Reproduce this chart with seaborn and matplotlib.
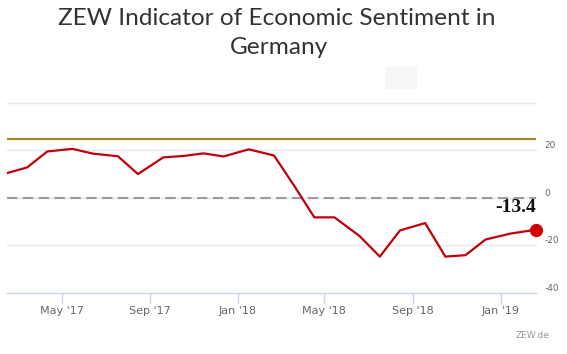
import pandas as pd
import numpy as np
import matplotlib.pyplot as plt
import matplotlib.dates as mdates
from matplotlib.transforms import ScaledTranslation
from matplotlib.patches import Rectangle
import seaborn as sns

# ZEW release dates and indicator values
release_dates = [
    "2017-02-14", "2017-03-14", "2017-04-11", "2017-05-16", "2017-06-13", "2017-07-18",
    "2017-08-15", "2017-09-19", "2017-10-17", "2017-11-14", "2017-12-12",
    "2018-01-16", "2018-02-20", "2018-03-20", "2018-04-17", "2018-05-15", "2018-06-19",
    "2018-07-17", "2018-08-14", "2018-09-18", "2018-10-16", "2018-11-13", "2018-12-11",
    "2019-01-15", "2019-02-19",
]
sentiment = [
    10.4, 12.8, 19.5, 20.6, 18.6, 17.5,
    10.0, 17.0, 17.6, 18.7, 17.4,
    20.4, 17.8, 5.1, -8.2, -8.2, -16.1,
    -24.7, -13.7, -10.6, -24.7, -24.1, -17.5,
    -15.0, -13.4,
]
long_term_avg = 24.6
y_ticks = [-40, -20, 0, 20]
y_grid = [-20, 0, 20, 40]

df = pd.DataFrame({"date": pd.to_datetime(release_dates), "value": sentiment})

sns.set_style("white")
plt.rcParams["font.family"] = ["DejaVu Sans"]

fig = plt.figure(figsize=(5.67, 3.54), dpi=100)
ax = fig.add_axes([7 / 567, 0.1723, 529 / 567, 0.5376])

# faint box left over from the original page
fig.patches.append(Rectangle((385 / 567, 1 - 88.5 / 354), 32 / 567, 22 / 354,
                             transform=fig.transFigure, facecolor="#f7f6f9",
                             edgecolor="none", zorder=0))

for v in y_grid:
    ax.axhline(v, color="#e6e4ea", linewidth=1, zorder=1, clip_on=False)
ax.axhline(long_term_avg, color="#9c8a22", linewidth=1.6, zorder=2)
ax.axhline(0, color="#9d98a3", linewidth=1.5, linestyle=(0, (5, 2.6)), zorder=2)

sns.lineplot(data=df, x="date", y="value", color="#c0000a", linewidth=1.6, ax=ax, zorder=3)
last = df.iloc[-1]
ax.plot(last["date"], last["value"], "o", color="#d10000", markersize=8.5, zorder=4, clip_on=False)
ax.annotate(f"{last['value']:.1f}", xy=(last["date"], last["value"]), xytext=(0, 13),
            textcoords="offset points", ha="right", va="baseline",
            fontsize=14, fontweight="bold", family="Liberation Serif", color="#111111")

ax.set_xlim(df["date"].iloc[0], df["date"].iloc[-1])
ax.set_ylim(-40, 40)

for s in ["top", "left", "right"]:
    ax.spines[s].set_visible(False)
ax.spines["bottom"].set_color("#ccd6eb")
ax.spines["bottom"].set_linewidth(1)

ax.xaxis.set_major_locator(mdates.MonthLocator(bymonth=[1, 5, 9]))
ax.xaxis.set_major_formatter(mdates.DateFormatter("%b '%y"))
ax.tick_params(axis="x", bottom=True, length=7.2, width=1, color="#ccd6eb",
               labelsize=8, labelcolor="#666666", pad=2.5)

ax.set_yticks(y_ticks)
ax.set_yticklabels([str(t) for t in y_ticks])
ax.yaxis.tick_right()
ax.tick_params(axis="y", length=0, labelsize=6.5, labelcolor="#666666", pad=6)
for lab in ax.get_yticklabels():
    lab.set_transform(lab.get_transform() + ScaledTranslation(0, 4 / 72, fig.dpi_scale_trans))

ax.set_xlabel("")
ax.set_ylabel("")

fig.text(0.488, 1 - 18.5 / 354, "ZEW Indicator of Economic Sentiment in", ha="center", va="center",
         fontsize=17.6, color="#333333", family="Lato")
fig.text(0.492, 1 - 47.5 / 354, "Germany", ha="center", va="center",
         fontsize=17.6, color="#333333", family="Lato")
fig.text(549 / 567, 1 - 336 / 354, "ZEW.de", ha="right", va="center", fontsize=6.5, color="#999999")

fig.savefig("out.png", dpi=100)
